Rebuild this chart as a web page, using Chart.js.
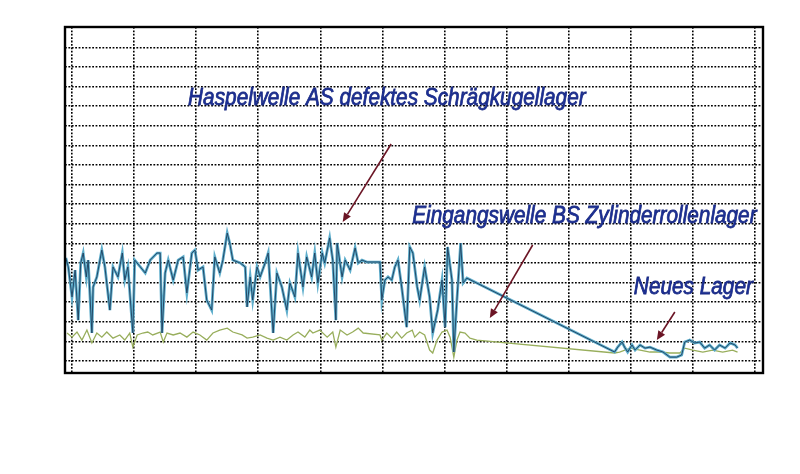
<!DOCTYPE html>
<html>
<head>
<meta charset="utf-8">
<script src="https://cdn.jsdelivr.net/npm/chart.js@4"></script>
<style>
html,body{margin:0;padding:0;background:#fff;}
#wrap{width:800px;height:474px;}
</style>
</head>
<body>
<div id="wrap"><canvas id="c" width="800" height="474"></canvas></div>
<script>
// Haspelwelle AS (blue) – x in grid units, y in grid units
const haspelX = [-0.10,-0.06,0.00,0.05,0.10,0.14,0.18,0.23,0.26,0.32,0.34,0.40,0.48,0.53,0.61,0.66,0.74,0.81,0.85,0.90,0.98,1.01,1.10,1.18,1.26,1.37,1.42,1.45,1.50,1.55,1.63,1.71,1.79,1.85,1.93,1.98,2.03,2.11,2.17,2.25,2.30,2.38,2.43,2.50,2.54,2.59,2.71,2.79,2.82,2.87,2.91,2.98,3.03,3.11,3.16,3.24,3.30,3.38,3.46,3.51,3.59,3.64,3.72,3.78,3.86,3.91,3.96,4.03,4.07,4.15,4.20,4.25,4.27,4.35,4.40,4.48,4.56,4.61,4.67,4.75,4.96,4.99,5.04,5.09,5.15,5.20,5.25,5.31,5.39,5.44,5.49,5.56,5.60,5.68,5.76,5.81,5.89,5.96,6.01,6.05,6.12,6.15,6.20,6.26,6.30,6.36,8.74,8.79,8.86,8.90,8.95,9.02,9.07,9.15,9.23,9.31,9.42,9.52,9.63,9.74,9.82,9.87,9.95,10.03,10.11,10.19,10.27,10.35,10.43,10.52,10.60,10.68,10.72];
const haspelY = [5.26,4.80,3.27,4.64,2.09,5.00,5.51,4.29,5.15,1.43,3.78,4.29,5.66,4.80,2.60,4.80,4.29,5.51,4.13,4.80,1.43,5.15,4.80,4.49,5.15,5.51,5.51,1.43,4.49,5.15,4.13,5.15,5.31,3.47,5.51,5.66,4.64,4.80,3.11,2.60,5.31,4.49,5.15,6.53,6.02,5.15,5.00,4.80,2.76,4.29,3.11,4.80,4.29,5.00,5.51,1.43,4.49,3.78,2.60,3.98,3.27,5.51,3.78,5.31,4.29,5.51,3.98,5.51,5.00,6.28,5.15,2.09,6.02,4.29,5.15,4.64,5.77,5.00,5.15,5.05,5.05,3.11,4.13,4.29,4.13,4.80,5.15,3.78,1.73,5.82,5.51,3.78,3.11,4.80,3.27,1.43,2.60,4.13,1.73,5.82,4.13,0.46,3.11,6.02,3.98,4.23,0.46,0.71,0.97,0.71,0.46,0.82,0.56,0.82,0.66,0.71,0.56,0.46,0.20,0.20,0.31,0.97,1.07,0.92,0.97,0.66,0.82,0.56,0.82,0.66,0.92,0.82,0.66];

// Eingangswelle BS (green)
const eingangX = [-0.08,0.00,0.08,0.16,0.24,0.32,0.40,0.48,0.56,0.66,0.77,0.85,0.93,0.98,1.05,1.14,1.22,1.30,1.42,1.47,1.53,1.63,1.74,1.85,1.95,2.06,2.17,2.27,2.38,2.50,2.59,2.74,2.82,2.91,3.03,3.14,3.24,3.35,3.46,3.56,3.64,3.75,3.83,3.88,3.99,4.11,4.20,4.25,4.32,4.43,4.52,4.61,4.69,4.96,4.99,5.07,5.15,5.23,5.31,5.39,5.48,5.52,5.60,5.68,5.76,5.81,5.88,5.96,6.04,6.09,6.15,6.20,6.25,6.33,6.41,6.52,8.74,8.82,8.99,9.15,9.31,9.47,9.63,9.79,9.87,10.00,10.16,10.32,10.48,10.64,10.72];
const eingangY = [1.43,1.22,1.48,1.07,1.58,0.92,1.43,1.22,1.48,1.17,1.33,1.07,1.43,0.71,1.33,1.43,1.48,1.33,1.48,0.97,1.43,1.33,1.43,1.22,1.48,1.33,1.07,1.43,1.58,1.68,1.48,1.33,1.17,1.22,1.33,1.17,1.07,1.22,1.07,1.33,1.48,1.22,1.58,1.43,1.58,1.22,1.48,0.71,1.58,1.33,1.48,1.68,1.43,1.33,1.07,1.43,1.17,1.48,1.17,1.43,1.58,1.22,1.48,1.33,0.56,0.41,1.07,1.48,1.58,1.22,0.20,1.07,1.48,1.43,1.17,1.07,0.41,0.46,0.66,0.56,0.46,0.46,0.41,0.41,0.66,0.56,0.46,0.56,0.46,0.56,0.46];

// annotation texts with anchor (grid units, left/baseline)
const noteTexts = ["Haspelwelle AS defektes Schrägkugellager", "Eingangswelle BS Zylinderrollenlager", "Neues Lager"];
const noteX = [1.87, 5.48, 9.05];
const noteY = [13.06, 7.04, 3.42];
// arrows: from (x1,y1) to (x2,y2) in grid units
const arrowFromX = [5.14, 7.42, 9.71];
const arrowFromY = [11.07, 5.92, 2.50];
const arrowToX = [4.36, 6.73, 9.42];
const arrowToY = [7.09, 2.19, 1.07];

const toPts = (xs, ys) => xs.map((x, i) => ({x: x, y: ys[i]}));
const haspel = toPts(haspelX, haspelY);
const eingang = toPts(eingangX, eingangY);

const annotPlugin = {
  id: 'annot',
  afterDatasetsDraw(chart) {
    const ctx = chart.ctx, xs = chart.scales.x, ys = chart.scales.y, a = chart.chartArea;
    ctx.save();
    // arrows
    ctx.strokeStyle = '#6b1525';
    ctx.fillStyle = '#6b1525';
    ctx.lineWidth = 1.6;
    for (let i = 0; i < arrowFromX.length; i++) {
      const x1 = xs.getPixelForValue(arrowFromX[i]), y1 = ys.getPixelForValue(arrowFromY[i]);
      const x2 = xs.getPixelForValue(arrowToX[i]), y2 = ys.getPixelForValue(arrowToY[i]);
      const ang = Math.atan2(y2 - y1, x2 - x1);
      const hl = 9, hw = 4;
      const bx = x2 - hl * Math.cos(ang), by = y2 - hl * Math.sin(ang);
      ctx.beginPath(); ctx.moveTo(x1, y1); ctx.lineTo(bx, by); ctx.stroke();
      ctx.beginPath();
      ctx.moveTo(x2, y2);
      ctx.lineTo(bx + hw * Math.sin(ang), by - hw * Math.cos(ang));
      ctx.lineTo(bx - hw * Math.sin(ang), by + hw * Math.cos(ang));
      ctx.closePath(); ctx.fill();
    }
    // texts (slightly stretched vertically like the original)
    ctx.fillStyle = '#1b2f98';
    ctx.strokeStyle = '#1a2a80';
    ctx.lineWidth = 0.7;
    ctx.textBaseline = 'alphabetic';
    ctx.textAlign = 'left';
    ctx.font = 'italic 21px "Liberation Sans", Arial, sans-serif';
    for (let i = 0; i < noteTexts.length; i++) {
      const px = xs.getPixelForValue(noteX[i]), py = ys.getPixelForValue(noteY[i]);
      ctx.save();
      ctx.translate(px, py);
      ctx.scale(0.99, 1.1);
      ctx.fillText(noteTexts[i], 0, 0);
      ctx.strokeText(noteTexts[i], 0, 0);
      ctx.restore();
    }
    // frame
    ctx.strokeStyle = '#000';
    ctx.lineWidth = 2.4;
    ctx.strokeRect(a.left, a.top, a.right - a.left, a.bottom - a.top);
    ctx.restore();
  }
};

new Chart(document.getElementById('c'), {
  type: 'line',
  data: {
    datasets: [
      {label: 'Haspelwelle AS (Kontur)', data: haspel, borderColor: '#1d3d5c', borderWidth: 0.9, pointRadius: 0, tension: 0},
      {label: 'Haspelwelle AS', data: haspel, borderColor: '#5eaecc', borderWidth: 2.8, pointRadius: 0, tension: 0},
      {label: 'Eingangswelle BS', data: eingang, borderColor: '#98ae5c', borderWidth: 1.3, pointRadius: 0, tension: 0}
    ]
  },
  options: {
    responsive: false,
    animation: false,
    layout: {padding: {left: 65, top: 27, right: 37, bottom: 101}},
    plugins: {legend: {display: false}, tooltip: {enabled: false}},
    scales: {
      x: {
        type: 'linear', min: -0.113, max: 11.13,
        ticks: {display: false, stepSize: 1},
        afterBuildTicks: (s) => { s.ticks = [0,1,2,3,4,5,6,7,8,9,10,11].map(v => ({value: v})); },
        grid: {color: '#000', lineWidth: 1.6, drawTicks: false},
        border: {display: false, dash: [1.8, 1.6]}
      },
      y: {
        type: 'linear', min: -0.61, max: 17.04,
        ticks: {display: false, stepSize: 1},
        afterBuildTicks: (s) => { s.ticks = [0,1,2,3,4,5,6,7,8,9,10,11,12,13,14,15,16].map(v => ({value: v})); },
        grid: {color: '#000', lineWidth: 1.6, drawTicks: false},
        border: {display: false, dash: [1.8, 1.6]}
      }
    }
  },
  plugins: [annotPlugin]
});
</script>
</body>
</html>
